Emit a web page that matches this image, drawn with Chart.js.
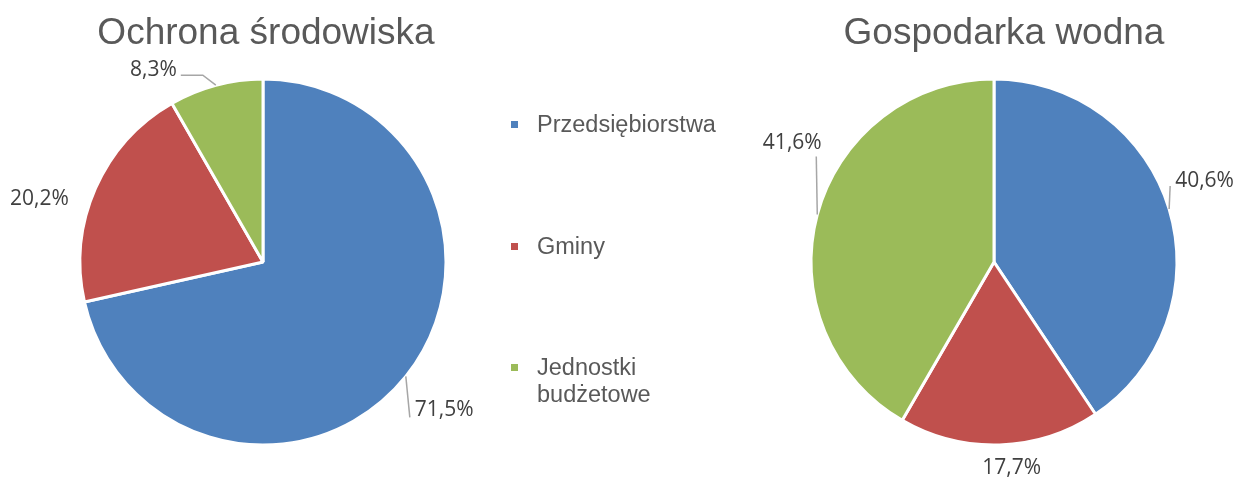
<!DOCTYPE html>
<html><head><meta charset="utf-8">
<script src="https://cdn.jsdelivr.net/npm/chart.js@4"></script>
<style>
html,body{margin:0;padding:0;background:#fff;}
#wrap{position:relative;width:1237px;height:479px;overflow:hidden;}
.box{position:absolute;top:0;height:479px;}
.title{position:absolute;font-family:"Liberation Sans",Arial,sans-serif;font-size:37px;color:#595959;white-space:nowrap;transform:translateX(-50%);top:11px;}
#legend{position:absolute;left:511px;top:0;font-family:"Liberation Sans",Arial,sans-serif;font-size:23.5px;color:#595959;}
.li{position:absolute;left:0;white-space:nowrap;}
.sw{position:absolute;left:0;width:7px;height:7px;}
.lt{position:absolute;left:26px;line-height:27px;}
</style></head>
<body><div id="wrap">
<div class="box" style="left:0;width:526px"><canvas id="c1"></canvas></div>
<div class="box" style="left:751px;width:486px"><canvas id="c2"></canvas></div>
<div class="title" id="t1" style="left:266px"></div>
<div class="title" id="t2" style="left:1004px"></div>
<div id="legend"></div>
</div>
<script>
const categories = ["Przedsiębiorstwa", "Gminy", "Jednostki budżetowe"];
const ochronaValues = [71.5, 20.2, 8.3];
const wodnaValues = [40.6, 17.7, 41.6];
const chartTitles = ["Ochrona środowiska", "Gospodarka wodna"];

const colors = ["#4F81BD", "#C0504D", "#9BBB59"];
// label placement relative to slice edge anchor: text offset, alignment, leader points
const ochronaLabelPos = [
  {dx: 9, dy: 34, align: "left", leader: [[4, 41]]},
  {dx: -56, dy: 11, align: "center", leader: null},
  {dx: -39, dy: -15, align: "right", leader: [[-13, -10], [-35, -10]]}
];
const wodnaLabelPos = [
  {dx: 6, dy: -28, align: "left", leader: [[1, -23]]},
  {dx: 12, dy: 23, align: "center", leader: null},
  {dx: -25, dy: -71, align: "center", leader: [[-1, -58]]}
];

function fmt(v){ return v.toFixed(1).replace('.', ',') + '%'; }

const labelPlugin = {
  id: 'outLabels',
  afterDatasetsDraw(chart, args, opts) {
    const ctx = chart.ctx;
    const meta = chart.getDatasetMeta(0);
    const vals = chart.data.datasets[0].data;
    ctx.save();
    meta.data.forEach((arc, i) => {
      const p = arc.getProps(['x','y','startAngle','endAngle','outerRadius'], true);
      const mid = (p.startAngle + p.endAngle) / 2;
      const ax = p.x + Math.cos(mid) * p.outerRadius;
      const ay = p.y + Math.sin(mid) * p.outerRadius;
      const spec = opts.pos[i];
      if (spec.leader) {
        ctx.strokeStyle = '#A6A6A6';
        ctx.lineWidth = 1.5;
        ctx.beginPath();
        ctx.moveTo(ax, ay);
        spec.leader.forEach(pt => ctx.lineTo(ax + pt[0], ay + pt[1]));
        ctx.stroke();
      }
      ctx.fillStyle = '#404040';
      ctx.font = '21px "Open Sans", sans-serif';
      ctx.textAlign = spec.align;
      ctx.textBaseline = 'middle';
      ctx.fillText(fmt(vals[i]), ax + spec.dx, ay + spec.dy);
    });
    ctx.restore();
  }
};

function makePie(id, values, pos) {
  return new Chart(document.getElementById(id), {
    type: 'pie',
    data: {
      labels: categories,
      datasets: [{
        data: values,
        backgroundColor: colors,
        borderColor: '#ffffff',
        borderWidth: 3,
        hoverOffset: 0,
        radius: 183
      }]
    },
    options: {
      responsive: true,
      maintainAspectRatio: false,
      animation: false,
      events: [],
      layout: {padding: {top: 45, bottom: 0, left: 0, right: 0}},
      plugins: {
        legend: {display: false},
        tooltip: {enabled: false},
        title: {display: false},
        outLabels: {pos: pos}
      }
    },
    plugins: [labelPlugin]
  });
}

document.getElementById('t1').textContent = chartTitles[0];
document.getElementById('t2').textContent = chartTitles[1];

const legendTops = [111, 233, 354];
const leg = document.getElementById('legend');
categories.forEach((c, i) => {
  const li = document.createElement('div');
  li.className = 'li';
  li.style.top = legendTops[i] + 'px';
  const sw = document.createElement('div');
  sw.className = 'sw';
  sw.style.background = colors[i];
  sw.style.top = '10px';
  const lt = document.createElement('div');
  lt.className = 'lt';
  lt.innerHTML = i === 2 ? 'Jednostki<br>budżetowe' : c;
  li.appendChild(sw); li.appendChild(lt);
  leg.appendChild(li);
});

makePie('c1', ochronaValues, ochronaLabelPos);
makePie('c2', wodnaValues, wodnaLabelPos);
</script>
</body></html>
